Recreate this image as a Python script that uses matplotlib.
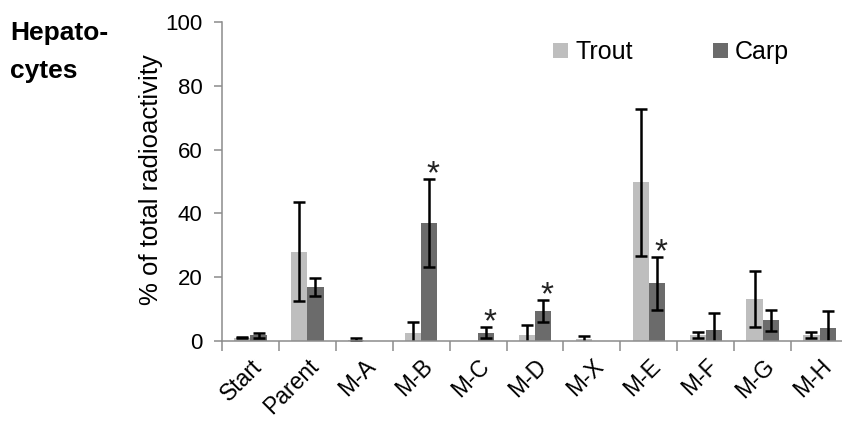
import matplotlib
matplotlib.use("Agg")
import matplotlib.pyplot as plt
import numpy as np

categories = ["Start", "Parent", "M-A", "M-B", "M-C", "M-D", "M-X", "M-E", "M-F", "M-G", "M-H"]
trout = [1.0, 28.0, 0.4, 2.6, 0.0, 1.9, 0.5, 49.7, 1.9, 13.1, 2.0]
trout_err = [0.2, 15.5, 0.4, 3.2, 0.0, 3.1, 1.0, 23.0, 0.95, 8.8, 0.95]
carp = [1.8, 17.0, 0.0, 36.9, 2.6, 9.4, 0.0, 18.1, 3.4, 6.5, 4.1]
carp_err = [0.8, 2.8, 0.0, 13.8, 1.7, 3.4, 0.0, 8.3, 5.5, 3.3, 5.3]
significant = ["M-B", "M-C", "M-D", "M-E"]

plt.rcParams['font.family'] = ['Liberation Sans', 'DejaVu Sans']

fig = plt.figure(figsize=(8.42, 4.21), dpi=100)
ax = fig.add_axes([222/842, 80/421, 626/842, 319/421])

x = np.arange(len(categories))
w = 0.285
light = "#bebebe"
dark = "#6b6b6b"

def draw_err(xs, vals, errs):
    for xi, v, e in zip(xs, vals, errs):
        if e <= 0:
            continue
        ax.errorbar(xi, v, yerr=e, fmt="none", ecolor="black", elinewidth=1.8,
                    capsize=4.6, capthick=1.8, zorder=2.2)

ax.bar(x - w/2, trout, w, color=light, label="Trout", zorder=2)
ax.bar(x + w/2, carp, w, color=dark, label="Carp", zorder=2)
draw_err(x - w/2, trout, trout_err)
draw_err(x + w/2, carp, carp_err)

for i, c in enumerate(categories):
    if c in significant:
        ax.annotate("*", xy=(x[i] + w/2 + 0.07, carp[i] + carp_err[i]),
                    xytext=(0, -3), textcoords="offset points", ha="center",
                    va="baseline", fontsize=24, color="#222222")

ax.set_xlim(-0.5, len(categories) - 0.5)
ax.set_ylim(0, 100)
ax.set_yticks([0, 20, 40, 60, 80, 100])
ax.tick_params(axis="y", labelsize=16, length=6, width=1.1, color="#8c8c8c", pad=8)
ax.set_xticks(x)
ax.set_xticklabels(categories, rotation=45, ha="right", rotation_mode="anchor", fontsize=16.5)
ax.tick_params(axis="x", which="major", length=0, pad=10)
ax.set_xticks(np.arange(-0.5, len(categories), 1.0), minor=True)
ax.tick_params(axis="x", which="minor", length=7, width=1.1, color="#8c8c8c")

for s in ["top", "right"]:
    ax.spines[s].set_visible(False)
for s in ["left", "bottom"]:
    ax.spines[s].set_color("#8c8c8c")
    ax.spines[s].set_linewidth(1.1)

fig.text(151/842, 1 - 180/421, "% of total radioactivity", rotation=90,
         ha="center", va="center", fontsize=18.5)

ax.legend(loc="upper left", bbox_to_anchor=(553/842, 1 - 40/421),
          bbox_transform=fig.transFigure, ncol=2, frameon=False,
          fontsize=18, handlelength=0.6, handleheight=0.55, handletextpad=0.28,
          columnspacing=3.2, borderpad=0, borderaxespad=0)

fig.text(10/842, 1 - 40/421, "Hepato-", fontsize=19, fontweight="bold",
         va="baseline", ha="left")
fig.text(10/842, 1 - 78/421, "cytes", fontsize=19, fontweight="bold",
         va="baseline", ha="left")

fig.savefig("out.png", dpi=100)
